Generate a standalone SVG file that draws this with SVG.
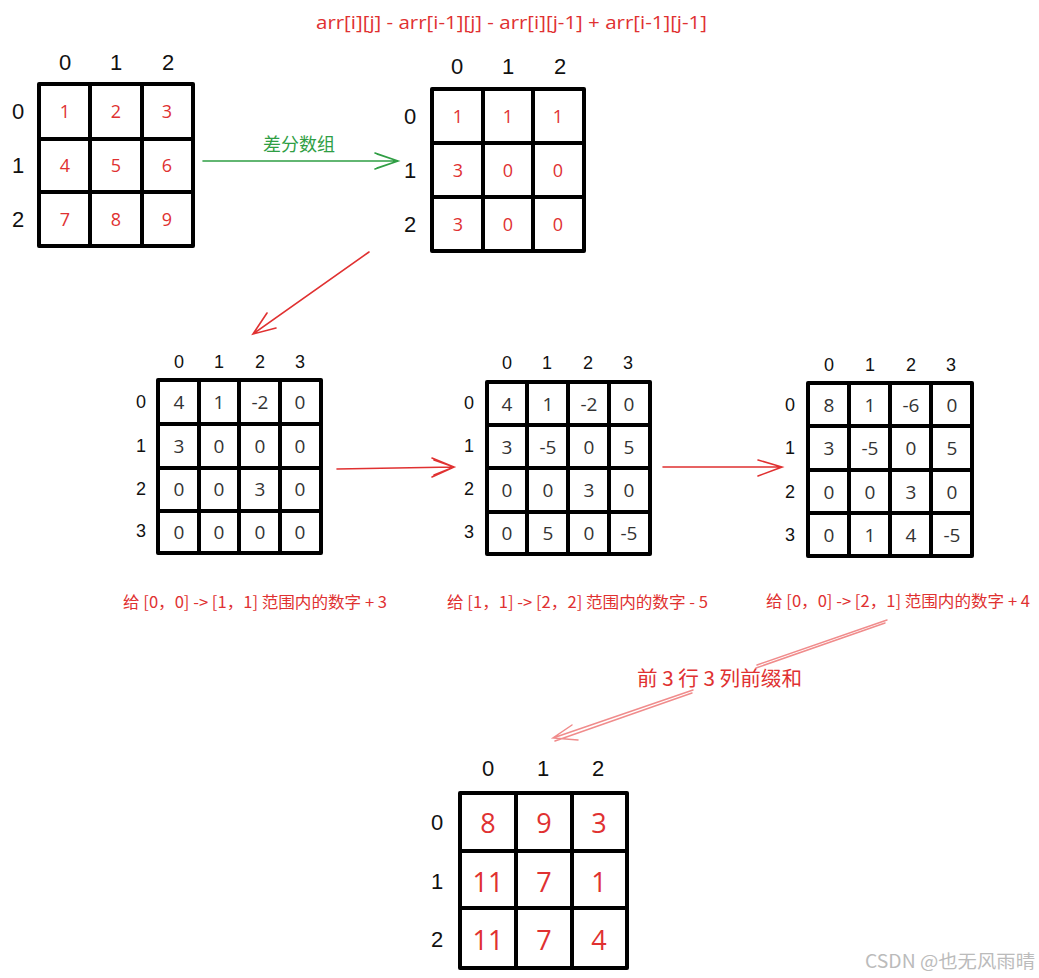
<svg xmlns="http://www.w3.org/2000/svg" width="1039" height="978" viewBox="0 0 1039 978">
<defs>
<style>
.g{fill:none;stroke:#000;stroke-width:4;stroke-linecap:round;stroke-linejoin:round}
.idx{font-family:"Liberation Sans","DejaVu Sans",sans-serif;font-size:22px;fill:#111;text-anchor:middle;dominant-baseline:central}
.idxs{font-family:"Liberation Sans","DejaVu Sans",sans-serif;font-size:18px;fill:#111;text-anchor:middle;dominant-baseline:central}
.rv{font-family:"Open Sans","Noto Sans",sans-serif;font-size:18px;fill:#e03131;text-anchor:middle;dominant-baseline:central}
.rvb{font-family:"Open Sans","Noto Sans",sans-serif;font-size:27px;fill:#e03131;text-anchor:middle;dominant-baseline:central}
.kv{font-family:"Open Sans","Noto Sans",sans-serif;font-size:19px;fill:#333;text-anchor:middle;dominant-baseline:central}
.cap{font-family:"Noto Sans CJK SC","Noto Sans",sans-serif;font-size:16px;fill:#e03131;dominant-baseline:central}
.red{fill:none;stroke:#e03131;stroke-width:1.6;stroke-linecap:round}
.redl{fill:none;stroke:#f08c8c;stroke-width:1.5;stroke-linecap:round}
.grn{fill:none;stroke:#2f9e44;stroke-width:1.6;stroke-linecap:round}
</style>
</defs>
<rect width="1039" height="978" fill="#fff"/>

<text x="316" y="22" textLength="391" lengthAdjust="spacingAndGlyphs" style="font-family:'Open Sans','Noto Sans',sans-serif;font-size:19px;fill:#e03131;dominant-baseline:central">arr[i][j] - arr[i-1][j] - arr[i][j-1] + arr[i-1][j-1]</text>

<g id="grid1">
<rect class="g" x="39" y="84" width="154" height="162"/>
<path class="g" d="M90 84V246M142 84V246M39 139H193M39 192H193"/>
<text class="idx" x="65" y="62">0</text><text class="idx" x="116" y="62">1</text><text class="idx" x="168" y="62">2</text>
<text class="idx" x="18" y="111">0</text><text class="idx" x="18" y="165">1</text><text class="idx" x="18" y="219">2</text>
<text class="rv" x="65" y="111">1</text><text class="rv" x="116" y="111">2</text><text class="rv" x="167" y="111">3</text>
<text class="rv" x="65" y="165">4</text><text class="rv" x="116" y="165">5</text><text class="rv" x="167" y="165">6</text>
<text class="rv" x="65" y="219">7</text><text class="rv" x="116" y="219">8</text><text class="rv" x="167" y="219">9</text>
</g>

<g id="grid2">
<rect class="g" x="432" y="89" width="152" height="162"/>
<path class="g" d="M483 89V251M533 89V251M432 143H584M432 197H584"/>
<text class="idx" x="457" y="66">0</text><text class="idx" x="508" y="66">1</text><text class="idx" x="560" y="66">2</text>
<text class="idx" x="410" y="116">0</text><text class="idx" x="410" y="170">1</text><text class="idx" x="410" y="224">2</text>
<text class="rv" x="458" y="116">1</text><text class="rv" x="508" y="116">1</text><text class="rv" x="558" y="116">1</text>
<text class="rv" x="458" y="170">3</text><text class="rv" x="508" y="170">0</text><text class="rv" x="558" y="170">0</text>
<text class="rv" x="458" y="224">3</text><text class="rv" x="508" y="224">0</text><text class="rv" x="558" y="224">0</text>
</g>

<g id="grid3">
<rect class="g" x="158" y="380" width="163" height="173"/>
<path class="g" d="M199 380V553M239 380V553M280 380V553M158 424H321M158 468H321M158 511H321"/>
<text class="idxs" x="179" y="362">0</text><text class="idxs" x="219" y="362">1</text><text class="idxs" x="260" y="362">2</text><text class="idxs" x="300" y="362">3</text>
<text class="idxs" x="141" y="402">0</text><text class="idxs" x="141" y="446">1</text><text class="idxs" x="141" y="489">2</text><text class="idxs" x="141" y="531">3</text>
<text class="kv" x="179" y="402">4</text><text class="kv" x="219" y="402">1</text><text class="kv" x="260" y="402">-2</text><text class="kv" x="300" y="402">0</text>
<text class="kv" x="179" y="446">3</text><text class="kv" x="219" y="446">0</text><text class="kv" x="260" y="446">0</text><text class="kv" x="300" y="446">0</text>
<text class="kv" x="179" y="489">0</text><text class="kv" x="219" y="489">0</text><text class="kv" x="260" y="489">3</text><text class="kv" x="300" y="489">0</text>
<text class="kv" x="179" y="532">0</text><text class="kv" x="219" y="532">0</text><text class="kv" x="260" y="532">0</text><text class="kv" x="300" y="532">0</text>
</g>

<g id="grid4">
<rect class="g" x="487" y="382" width="163" height="172"/>
<path class="g" d="M527 382V554M568 382V554M609 382V554M487 425H650M487 468H650M487 512H650"/>
<text class="idxs" x="507" y="363">0</text><text class="idxs" x="547" y="363">1</text><text class="idxs" x="588" y="363">2</text><text class="idxs" x="628" y="363">3</text>
<text class="idxs" x="469" y="403">0</text><text class="idxs" x="469" y="446">1</text><text class="idxs" x="469" y="489">2</text><text class="idxs" x="469" y="532">3</text>
<text class="kv" x="507" y="404">4</text><text class="kv" x="548" y="404">1</text><text class="kv" x="589" y="404">-2</text><text class="kv" x="629" y="404">0</text>
<text class="kv" x="507" y="447">3</text><text class="kv" x="548" y="447">-5</text><text class="kv" x="589" y="447">0</text><text class="kv" x="629" y="447">5</text>
<text class="kv" x="507" y="490">0</text><text class="kv" x="548" y="490">0</text><text class="kv" x="589" y="490">3</text><text class="kv" x="629" y="490">0</text>
<text class="kv" x="507" y="533">0</text><text class="kv" x="548" y="533">5</text><text class="kv" x="589" y="533">0</text><text class="kv" x="629" y="533">-5</text>
</g>

<g id="grid5">
<rect class="g" x="808" y="383" width="164" height="173"/>
<path class="g" d="M849 383V556M890 383V556M931 383V556M808 426H972M808 470H972M808 513H972"/>
<text class="idxs" x="829" y="365">0</text><text class="idxs" x="870" y="365">1</text><text class="idxs" x="911" y="365">2</text><text class="idxs" x="951" y="365">3</text>
<text class="idxs" x="790" y="405">0</text><text class="idxs" x="790" y="448">1</text><text class="idxs" x="790" y="492">2</text><text class="idxs" x="790" y="535">3</text>
<text class="kv" x="829" y="405">8</text><text class="kv" x="870" y="405">1</text><text class="kv" x="911" y="405">-6</text><text class="kv" x="952" y="405">0</text>
<text class="kv" x="829" y="448">3</text><text class="kv" x="870" y="448">-5</text><text class="kv" x="911" y="448">0</text><text class="kv" x="952" y="448">5</text>
<text class="kv" x="829" y="492">0</text><text class="kv" x="870" y="492">0</text><text class="kv" x="911" y="492">3</text><text class="kv" x="952" y="492">0</text>
<text class="kv" x="829" y="535">0</text><text class="kv" x="870" y="535">1</text><text class="kv" x="911" y="535">4</text><text class="kv" x="952" y="535">-5</text>
</g>

<g id="grid6">
<rect class="g" x="460" y="793" width="167" height="175"/>
<path class="g" d="M516 793V968M572 793V968M460 851H627M460 908H627"/>
<text class="idx" x="488" y="768">0</text><text class="idx" x="543" y="768">1</text><text class="idx" x="598" y="768">2</text>
<text class="idx" x="437" y="822">0</text><text class="idx" x="437" y="881">1</text><text class="idx" x="437" y="939">2</text>
<text class="rvb" x="488" y="822">8</text><text class="rvb" x="544" y="822">9</text><text class="rvb" x="599" y="822">3</text>
<text class="rvb" x="488" y="881">11</text><text class="rvb" x="544" y="881">7</text><text class="rvb" x="599" y="881">1</text>
<text class="rvb" x="488" y="939">11</text><text class="rvb" x="544" y="939">7</text><text class="rvb" x="599" y="939">4</text>
</g>

<g id="connectors">
<path class="grn" d="M203 161H398M375 153L398 161L375 169M377 154L398 161L377 168"/>
<text x="263" y="143" textLength="72" lengthAdjust="spacingAndGlyphs" style="font-family:'Noto Sans CJK SC','Noto Sans',sans-serif;font-size:18px;fill:#2f9e44;dominant-baseline:central">差分数组</text>
<path class="red" d="M369 252L253 334M267 313L253 334L276 328"/>
<path class="red" d="M337 469L454 467M432 458L454 467L432 477M434 460L454 467L434 475"/>
<path class="red" d="M663 467L782 467M758 460L782 467L758 476"/>
<path class="redl" d="M887 620L757 665M885 623L756 668"/>
<path class="redl" d="M693 690L553 738M692 693L555 741M572 725L553 738L578 740"/>
<text x="637" y="677" textLength="165" lengthAdjust="spacingAndGlyphs" style="font-family:'Noto Sans CJK SC','Noto Sans',sans-serif;font-size:20px;fill:#e03131;dominant-baseline:central">前 3 行 3 列前缀和</text>
</g>

<text class="cap" x="123" y="601" textLength="264" lengthAdjust="spacingAndGlyphs">给 [0，0] -&gt; [1，1] 范围内的数字 + 3</text>
<text class="cap" x="447" y="601" textLength="261" lengthAdjust="spacingAndGlyphs">给 [1，1] -&gt; [2，2] 范围内的数字 - 5</text>
<text class="cap" x="766" y="600" textLength="264" lengthAdjust="spacingAndGlyphs">给 [0，0] -&gt; [2，1] 范围内的数字 + 4</text>

<text x="865" y="960" textLength="170" lengthAdjust="spacingAndGlyphs" style="font-family:'Noto Sans CJK SC','Noto Sans',sans-serif;font-size:18px;fill:#bbb;dominant-baseline:central">CSDN @也无风雨晴</text>
</svg>
